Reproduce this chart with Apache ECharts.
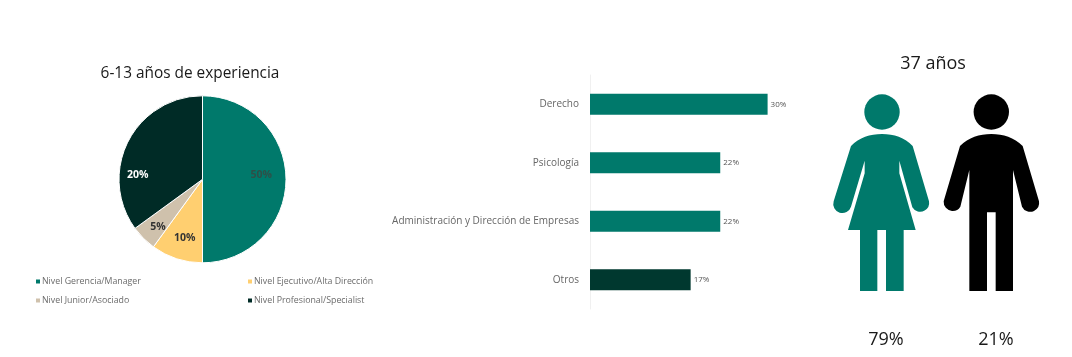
<!DOCTYPE html>
<html>
<head>
<meta charset="utf-8">
<style>html,body{margin:0;padding:0;background:#fff}#main{width:1072px;height:357px}</style>
<script src="https://cdn.jsdelivr.net/npm/echarts@6/dist/echarts.min.js"></script>
</head>
<body>
<div id="main"></div>
<script>
var fontName = "'Open Sans', 'Noto Sans', sans-serif";

// pie
var pieTitle = "6-13 años de experiencia";
var pieNames = ["Nivel Gerencia/Manager", "Nivel Ejecutivo/Alta Dirección", "Nivel Junior/Asociado", "Nivel Profesional/Specialist"];
var pieValues = [50, 10, 5, 35];      // slice sizes as drawn
var pieLabels = ["50%", "10%", "5%", "20%"]; // printed labels, the last one does not match its slice in the original
var pieColors = ["#00796b", "#ffcf70", "#cfc1ac", "#002b26"];
var pieLabelColors = ["#2f4f48", "#333333", "#333333", "#ffffff"];
var pieLabelOffsets = [[14, -4], [-4, 16], [-13, 16], [-25, 16]];

// bars
var barNames = ["Derecho", "Psicología", "Administración y Dirección de Empresas", "Otros"];
var barValues = [30, 22, 22, 17];
var barColors = ["#00796b", "#00796b", "#00796b", "#00382f"];

// people
var peopleTitle = "37 años";
var peopleLabels = ["79%", "21%"];
var womanColor = "#00796b";
var manColor = "#000000";

var womanBody = "M186 282C150 282 118 292 93 318L41 484A27 27 0 0 0 93 500L134 362L134 400L84 570L120 570L120 753L172 753L172 570L198 570L198 753L251 753L251 570L287 570L238 400L238 362L277 502A27 27 0 0 0 327 484L278 318C254 292 222 282 186 282Z";
var manBody = "M514 282C478 282 446 292 420 318L371 484A27 27 0 0 0 421 500L448 390L448 753L501 753L501 517L527 517L527 753L579 753L579 390L606 500A27 27 0 0 0 657 484L608 318C582 292 550 282 514 282Z";

echarts.graphic.registerShape("womanBody", echarts.graphic.extendPath(womanBody));
echarts.graphic.registerShape("manBody", echarts.graphic.extendPath(manBody));

var chart = echarts.init(document.getElementById("main"), null, {renderer: "canvas"});

function legendText() {
  return {fontFamily: fontName, fontSize: 8.8, color: "#6b6b6b", padding: [0, 0, 0, -4]};
}

function bigText(size) {
  return {fontFamily: fontName, fontSize: size, fontWeight: "normal", color: "#1a1a1a"};
}

var option = {
  animation: false,
  backgroundColor: "#ffffff",
  textStyle: {fontFamily: fontName},
  title: [
    {text: pieTitle, left: 190, top: 66, padding: 0, textAlign: "center", textStyle: bigText(15.4)},
    {text: peopleTitle, left: 933, top: 55, padding: 0, textAlign: "center", textStyle: bigText(18)},
    {text: peopleLabels[0], left: 886, top: 331, padding: 0, textAlign: "center", textStyle: bigText(18)},
    {text: peopleLabels[1], left: 996, top: 331, padding: 0, textAlign: "center", textStyle: bigText(18)}
  ],
  legend: [
    {orient: "vertical", left: 34, top: 277, itemWidth: 6, itemHeight: 6, itemGap: 10, icon: "rect", data: [pieNames[0], pieNames[2]], textStyle: legendText(), padding: 0},
    {orient: "vertical", left: 246, top: 277, itemWidth: 6, itemHeight: 6, itemGap: 10, icon: "rect", data: [pieNames[1], pieNames[3]], textStyle: legendText(), padding: 0}
  ],
  grid: {left: 590, top: 75, width: 236.8, height: 234},
  xAxis: {type: "value", min: 0, max: 40, show: false},
  yAxis: {
    type: "category",
    inverse: true,
    data: barNames,
    axisLine: {lineStyle: {color: "#f0f0f0"}},
    axisTick: {length: 5, lineStyle: {color: "#f0f0f0"}},
    axisLabel: {fontFamily: fontName, fontSize: 10, color: "#666666", margin: 11}
  },
  series: [
    {
      type: "pie",
      center: [202.5, 179.3],
      radius: 83.5,
      startAngle: 90,
      clockwise: true,
      silent: true,
      itemStyle: {borderColor: "#ffffff", borderWidth: 1},
      labelLine: {show: false},
      data: pieNames.map(function (name, i) {
        return {
          name: name,
          value: pieValues[i],
          itemStyle: {color: pieColors[i]},
          label: {
            show: true,
            position: "inside",
            formatter: pieLabels[i],
            offset: pieLabelOffsets[i],
            fontFamily: fontName,
            fontSize: 10.5,
            fontWeight: "bold",
            color: pieLabelColors[i]
          }
        };
      })
    },
    {
      type: "bar",
      barWidth: 21,
      silent: true,
      data: barValues.map(function (v, i) {
        return {value: v, itemStyle: {color: barColors[i]}};
      }),
      label: {
        show: true,
        position: "right",
        distance: 3,
        formatter: "{c}%",
        fontFamily: fontName,
        fontSize: 8,
        color: "#555555"
      }
    }
  ],
  graphic: [
    {type: "circle", shape: {cx: 882, cy: 112, r: 17.7}, style: {fill: womanColor}},
    {type: "womanBody", x: 820, y: 40, scaleX: 1 / 3, scaleY: 1 / 3, style: {fill: womanColor}},
    {type: "circle", shape: {cx: 991.3, cy: 112, r: 17.7}, style: {fill: manColor}},
    {type: "manBody", x: 820, y: 40, scaleX: 1 / 3, scaleY: 1 / 3, style: {fill: manColor}}
  ]
};

chart.setOption(option);
</script>
</body>
</html>
